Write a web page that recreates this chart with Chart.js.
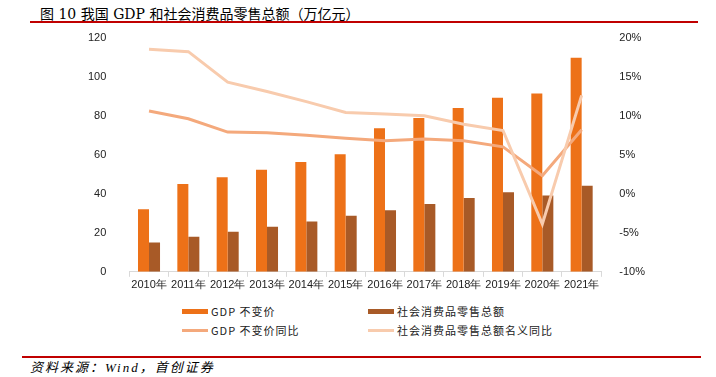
<!DOCTYPE html>
<html>
<head>
<meta charset="utf-8">
<script src="https://cdn.jsdelivr.net/npm/chart.js@4/dist/chart.umd.min.js"></script>
<style>
  body { margin: 0; width: 716px; height: 377px; background: #fff; position: relative; overflow: hidden; }
  .title { position: absolute; left: 40px; top: 3px; font: 14px "DejaVu Serif", "Noto Sans CJK SC", serif; color: #000; }
  .rule { position: absolute; height: 2px; background: #c00000; }
  .source { position: absolute; left: 30px; top: 357px; font: italic 13px "Liberation Serif", "Noto Sans CJK SC", serif; letter-spacing: 2px; color: #000; }
  #wrap { position: absolute; left: 0; top: 16px; width: 716px; height: 278px; }
  #legend { position: absolute; left: 0; top: 303px; width: 716px; font: 11px "Noto Sans CJK SC", sans-serif; letter-spacing: 1px; color: #222; }
  .item { position: absolute; display: flex; align-items: center; height: 16px; }
  .sw { display: inline-block; width: 26px; margin-right: 3px; }
</style>
</head>
<body>
<div class="title">图 10 我国 GDP 和社会消费品零售总额（万亿元）</div>
<div class="rule" style="left:30px; top:21px; width:668px;"></div>
<div id="wrap"><canvas id="chart"></canvas></div>
<div id="legend"></div>
<div class="rule" style="left:22px; top:356px; width:679px;"></div>
<div class="source">资料来源：Wind，首创证券</div>
<script>
const years = ['2010年', '2011年', '2012年', '2013年', '2014年', '2015年', '2016年', '2017年', '2018年', '2019年', '2020年', '2021年'];
const gdpConst = [32, 45, 48.5, 52.3, 56.2, 60.2, 73.5, 78.8, 83.9, 89.2, 91.3, 109.7];
const retailSales = [15.0, 17.9, 20.5, 23.1, 25.8, 28.7, 31.6, 34.7, 37.8, 40.7, 39.1, 44.1];
const gdpYoy = [10.6, 9.6, 7.9, 7.8, 7.5, 7.1, 6.8, 7.0, 6.8, 6.0, 2.3, 8.2];
const retailYoy = [18.5, 18.2, 14.3, 13.1, 11.8, 10.4, 10.2, 10.0, 8.9, 8.1, -3.9, 12.6];

const tickFont = { family: 'Liberation Sans, Arial, sans-serif', size: 11 };

const chart = new Chart(document.getElementById('chart'), {
    type: 'bar',
    data: {
        labels: years,
        datasets: [
            { label: 'GDP 不变价', data: gdpConst, backgroundColor: '#ed7118', yAxisID: 'y', order: 2,
              categoryPercentage: 0.56, barPercentage: 1.0 },
            { label: '社会消费品零售总额', data: retailSales, backgroundColor: '#a85a27', yAxisID: 'y', order: 2,
              categoryPercentage: 0.56, barPercentage: 1.0 },
            { type: 'line', label: 'GDP 不变价同比', data: gdpYoy, borderColor: '#f4a97c', borderWidth: 3,
              pointRadius: 0, tension: 0, yAxisID: 'y1', order: 1 },
            { type: 'line', label: '社会消费品零售总额名义同比', data: retailYoy, borderColor: '#f8cbad', borderWidth: 3,
              pointRadius: 0, tension: 0, yAxisID: 'y1', order: 0 }
        ]
    },
    options: {
        responsive: true,
        maintainAspectRatio: false,
        animation: false,
        layout: { padding: { left: 73, right: 61, top: 1, bottom: 0 } },
        plugins: { legend: { display: false }, tooltip: { enabled: false } },
        scales: {
            x: {
                grid: { display: true, drawOnChartArea: false, offset: true, tickLength: 5, color: '#d9d9d9' },
                border: { color: '#d9d9d9' },
                ticks: { font: tickFont, color: '#222', maxRotation: 0, autoSkip: false, padding: 2 }
            },
            y: {
                position: 'left', min: 0, max: 120,
                grid: { display: false }, border: { display: false },
                ticks: { stepSize: 20, font: tickFont, color: '#222', padding: 15 }
            },
            y1: {
                position: 'right', min: -10, max: 20,
                grid: { display: false }, border: { display: false },
                ticks: { stepSize: 5, font: tickFont, color: '#222', padding: 10,
                         callback: v => v + '%' }
            }
        }
    }
});

// two-column legend built from the datasets
const legend = document.getElementById('legend');
const slots = [[182, 0], [368, 0], [182, 19], [368, 19]];
chart.data.datasets.forEach((ds, i) => {
    const el = document.createElement('div');
    el.className = 'item';
    el.style.left = slots[i][0] + 'px';
    el.style.top = slots[i][1] + 'px';
    const isLine = ds.type === 'line';
    const sw = document.createElement('span');
    sw.className = 'sw';
    sw.style.height = isLine ? '3px' : '5px';
    sw.style.background = isLine ? ds.borderColor : ds.backgroundColor;
    el.appendChild(sw);
    el.appendChild(document.createTextNode(ds.label));
    legend.appendChild(el);
});
</script>
</body>
</html>
